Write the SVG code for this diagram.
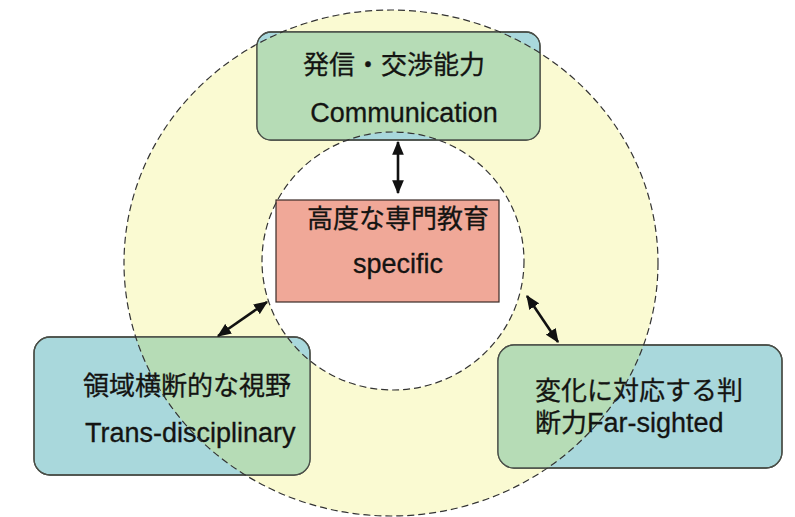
<svg xmlns="http://www.w3.org/2000/svg" width="795" height="517" viewBox="0 0 795 517">
  <defs>
    <style>
      .box { fill: #a9d8dc; stroke: #4a4f48; stroke-width: 1.3; }
      .boxg { fill: #b6dcb6; stroke: none; }
      .edge { fill: none; stroke: #4a4f48; stroke-width: 1.3; }
      .ring { fill: #fafad2; stroke: none; }
      .dash { fill: none; stroke: #333; stroke-width: 1.2; stroke-dasharray: 7 4; }
      .t { font-family: "Liberation Sans", "Noto Sans CJK JP", sans-serif; font-size: 26px; fill: #141412; stroke: #141412; stroke-width: 0.3; }
      .l { font-size: 27px; }
      .c { text-anchor: middle; }
      .arr { stroke: #111; stroke-width: 2.6; fill: none; marker-start: url(#ah); marker-end: url(#ah); }
    </style>
    <marker id="ah" viewBox="0 0 12 10" refX="11" refY="5" markerWidth="5.4" markerHeight="4.6" markerUnits="strokeWidth" orient="auto-start-reverse">
      <path d="M0,0 L12,5 L0,10 Z" fill="#111"/>
    </marker>
    <clipPath id="ringClip">
      <path clip-rule="evenodd" d="M124,263 a267,253 0 1,0 534,0 a267,253 0 1,0 -534,0 Z M262,261 a131,129 0 1,0 262,0 a131,129 0 1,0 -262,0 Z"/>
    </clipPath>
  </defs>

  <g id="ring">
    <path class="ring" fill-rule="evenodd" d="M124,263 a267,253 0 1,0 534,0 a267,253 0 1,0 -534,0 Z M262,261 a131,129 0 1,0 262,0 a131,129 0 1,0 -262,0 Z"/>
  </g>

  <g id="node-communication">
    <rect class="box" x="257" y="32" width="283" height="108" rx="14"/>
    <rect class="boxg" x="257" y="32" width="283" height="108" rx="14" clip-path="url(#ringClip)"/>
    <rect class="edge" x="257" y="32" width="283" height="108" rx="14"/>
    <text class="t c" x="394" y="74" font-size="24">発信・交渉能力</text>
    <text class="t l c" x="404" y="122">Communication</text>
  </g>

  <g id="node-specific">
    <rect x="276" y="200" width="223" height="102" fill="#f0a898" stroke="#3a2a26" stroke-width="1.2"/>
    <text class="t" x="307" y="228">高度な専門教育</text>
    <text class="t l c" x="398" y="273">specific</text>
  </g>

  <g id="node-transdisciplinary">
    <rect class="box" x="34" y="337" width="276" height="138" rx="16"/>
    <rect class="boxg" x="34" y="337" width="276" height="138" rx="16" clip-path="url(#ringClip)"/>
    <rect class="edge" x="34" y="337" width="276" height="138" rx="16"/>
    <text class="t" x="83" y="395">領域横断的な視野</text>
    <text class="t l" x="85" y="442">Trans-disciplinary</text>
  </g>

  <g id="node-farsighted">
    <rect class="box" x="498" y="345" width="284" height="123" rx="16"/>
    <rect class="boxg" x="498" y="345" width="284" height="123" rx="16" clip-path="url(#ringClip)"/>
    <rect class="edge" x="498" y="345" width="284" height="123" rx="16"/>
    <text class="t" x="535" y="400">変化に対応する判</text>
    <text class="t" x="535" y="432">断力<tspan font-size="27">Far-sighted</tspan></text>
  </g>

  <g id="outlines">
    <ellipse class="dash" cx="391" cy="263" rx="267" ry="253"/>
    <ellipse class="dash" cx="393" cy="261" rx="131" ry="129"/>
  </g>

  <g id="connectors">
    <line class="arr" x1="398" y1="142" x2="398" y2="193"/>
    <line class="arr" x1="267" y1="302" x2="218" y2="336"/>
    <line class="arr" x1="527" y1="296" x2="558" y2="342"/>
  </g>
</svg>
